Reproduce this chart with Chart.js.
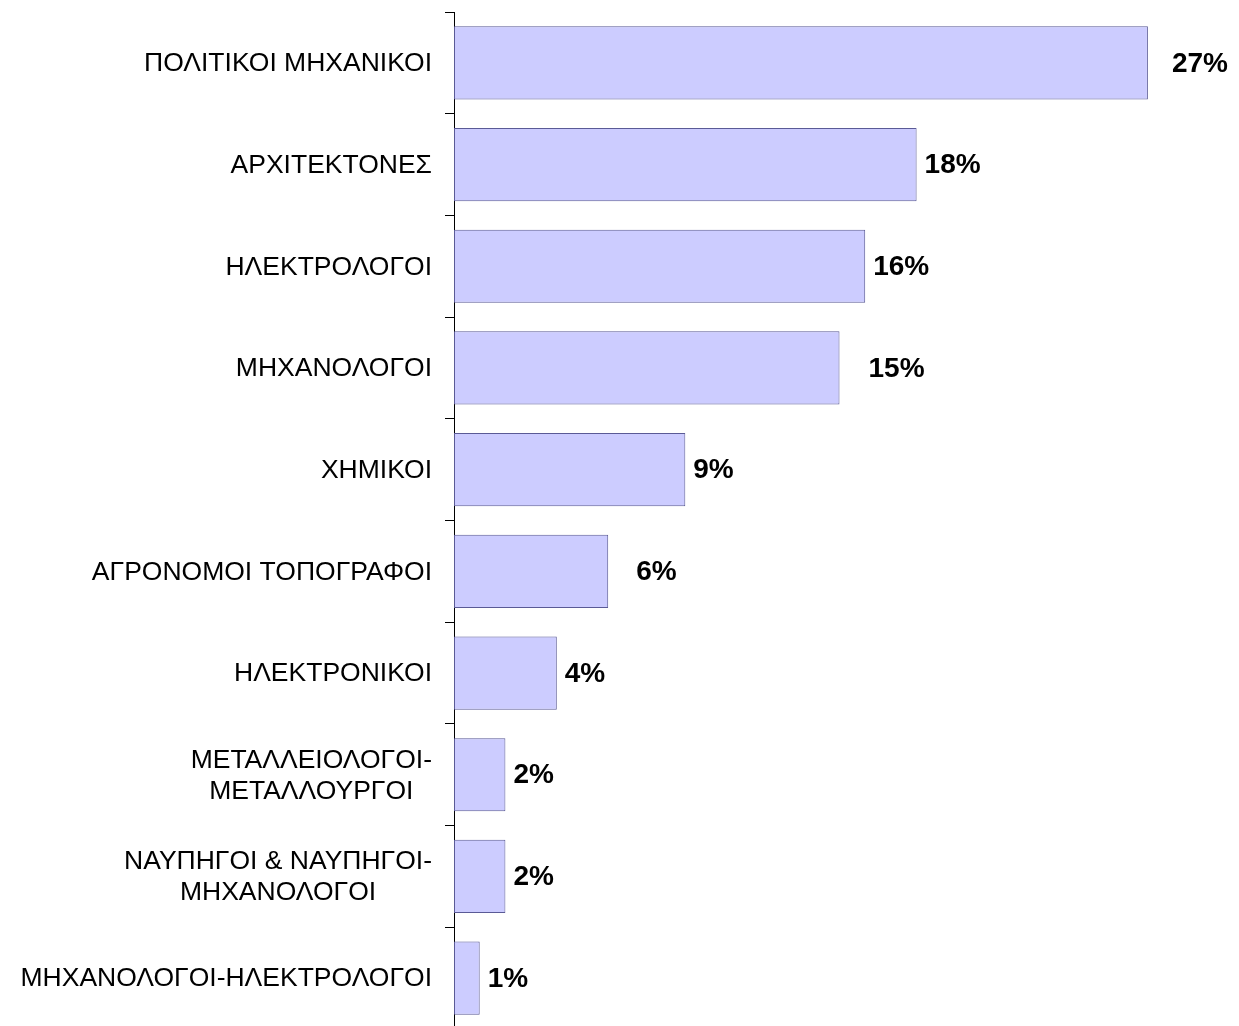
<!DOCTYPE html>
<html>
<head>
<meta charset="utf-8">
<script src="https://cdn.jsdelivr.net/npm/chart.js@4/dist/chart.umd.min.js"></script>
<style>
  html, body { margin: 0; padding: 0; background: #fff; overflow: hidden; }
  #wrap { width: 1239px; height: 1040px; }
</style>
</head>
<body>
<div id="wrap"><canvas id="c" width="1239" height="1040"></canvas></div>
<script>
const categories = [
  ["ΠΟΛΙΤΙΚΟΙ ΜΗΧΑΝΙΚΟΙ"],
  ["ΑΡΧΙΤΕΚΤΟΝΕΣ"],
  ["ΗΛΕΚΤΡΟΛΟΓΟΙ"],
  ["ΜΗΧΑΝΟΛΟΓΟΙ"],
  ["ΧΗΜΙΚΟΙ"],
  ["ΑΓΡΟΝΟΜΟΙ ΤΟΠΟΓΡΑΦΟΙ"],
  ["ΗΛΕΚΤΡΟΝΙΚΟΙ"],
  ["ΜΕΤΑΛΛΕΙΟΛΟΓΟΙ-", "ΜΕΤΑΛΛΟΥΡΓΟΙ"],
  ["ΝΑΥΠΗΓΟΙ & ΝΑΥΠΗΓΟΙ-", "ΜΗΧΑΝΟΛΟΓΟΙ"],
  ["ΜΗΧΑΝΟΛΟΓΟΙ-ΗΛΕΚΤΡΟΛΟΓΟΙ"]
];
const values = [27, 18, 16, 15, 9, 6, 4, 2, 2, 1];
const valueLabels = ["27%", "18%", "16%", "15%", "9%", "6%", "4%", "2%", "2%", "1%"];

// style: gap between bar end and its value label (px)
const labelGaps = [24, 8, 8, 29, 8, 28, 8, 8, 8, 8];

const FONT = '"Liberation Sans", Arial, sans-serif';

const categoryLabelPlugin = {
  id: 'categoryLabels',
  afterDraw(chart) {
    const ctx = chart.ctx;
    const yScale = chart.scales.y;
    const right = chart.chartArea.left - 22;
    ctx.save();
    ctx.fillStyle = '#000';
    ctx.font = '26.5px ' + FONT;
    ctx.textAlign = 'center';
    ctx.textBaseline = 'middle';
    const lh = 31;
    categories.forEach((lines, i) => {
      const yc = yScale.getPixelForValue(i);
      const w = Math.max(...lines.map(l => ctx.measureText(l).width));
      const cx = right - w / 2;
      const y0 = yc - (lines.length - 1) * lh / 2;
      lines.forEach((l, k) => ctx.fillText(l, cx, y0 + k * lh + 1));
    });
    ctx.restore();
  }
};

const valueLabelPlugin = {
  id: 'valueLabels',
  afterDatasetsDraw(chart) {
    const ctx = chart.ctx;
    const meta = chart.getDatasetMeta(0);
    ctx.save();
    ctx.fillStyle = '#000';
    ctx.font = 'bold 28px ' + FONT;
    ctx.textAlign = 'left';
    ctx.textBaseline = 'middle';
    meta.data.forEach((bar, i) => {
      ctx.fillText(valueLabels[i], bar.x + labelGaps[i], bar.y + 1);
    });
    ctx.restore();
  }
};

new Chart(document.getElementById('c'), {
  type: 'bar',
  data: {
    labels: categories.map(c => c.join(' ')),
    datasets: [{
      data: values,
      backgroundColor: '#CCCCFF',
      borderColor: '#5A5A96',
      borderWidth: 1,
      borderSkipped: false,
      barPercentage: 0.72,
      categoryPercentage: 1.0
    }]
  },
  options: {
    indexAxis: 'y',
    responsive: false,
    animation: false,
    devicePixelRatio: 1,
    layout: { padding: { top: 12, bottom: 11, left: 0, right: 14 } },
    plugins: {
      legend: { display: false },
      tooltip: { enabled: false }
    },
    scales: {
      x: {
        display: false,
        min: 0,
        max: 30
      },
      y: {
        offset: true,
        ticks: { display: false },
        grid: {
          offset: true,
          display: true,
          drawOnChartArea: false,
          drawTicks: true,
          tickLength: 9,
          color: '#000',
          lineWidth: 1
        },
        border: { display: true, color: '#000', width: 1 },
        afterFit(scale) { scale.width = 454; }
      }
    }
  },
  plugins: [categoryLabelPlugin, valueLabelPlugin]
});
</script>
</body>
</html>
